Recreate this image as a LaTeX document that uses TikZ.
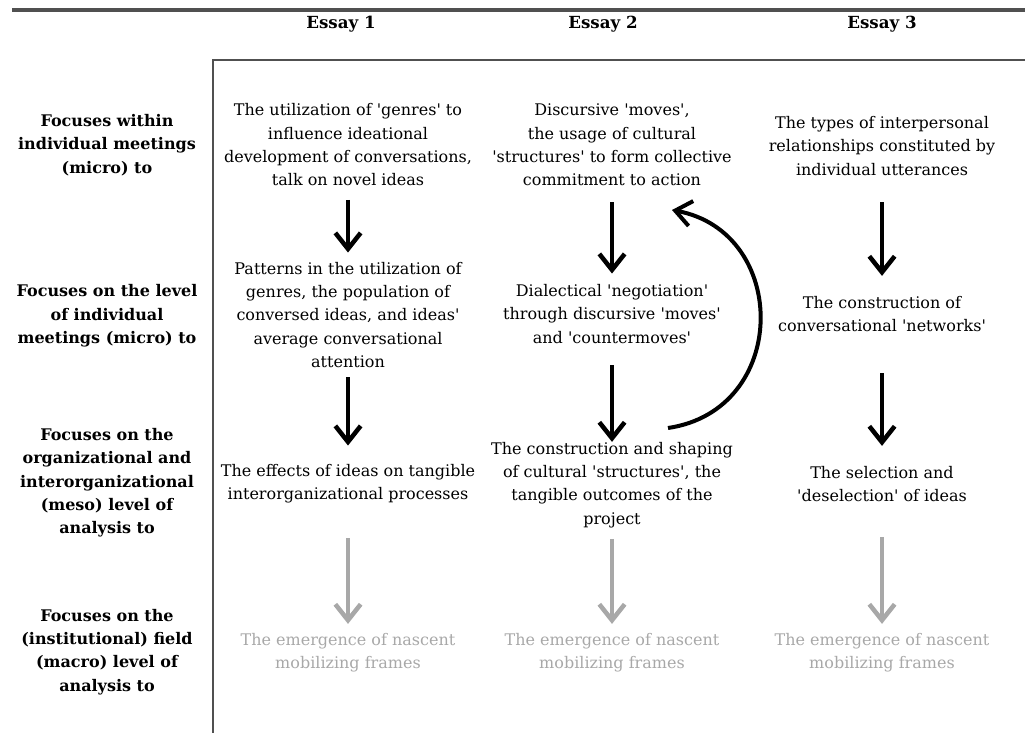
\documentclass[tikz,border=0pt]{standalone}
\usepackage{fontspec}
\setmainfont{DejaVu Serif}[Ligatures=TeXOff]
\usepackage{tikz}
\usetikzlibrary{arrows.meta}
\definecolor{fadegray}{RGB}{168, 168, 168}
\definecolor{rulegray}{RGB}{80, 80, 80}

\begin{document}
\begin{tikzpicture}[
  x=0.75pt, y=-0.75pt,
  lvl/.style={align=center, inner sep=0pt, font=\fontsize{12}{17.5}\selectfont\bfseries},
  txt/.style={align=center, inner sep=0pt, font=\fontsize{12}{17.5}\selectfont},
  fade/.style={txt, text=fadegray},
  head/.style={inner sep=0pt, font=\fontsize{12.5}{14}\selectfont\bfseries},
  flow/.style={-{Straight Barb[length=12pt, width=19pt]}, line width=3.4pt},
  fadeflow/.style={flow, fadegray}
]
  \useasboundingbox (0, 0) rectangle (1025, 733);

  % Frame
  \draw[rulegray, line width=3pt] (12, 10) -- (1025, 10);
  \draw[rulegray, line width=1.1pt] (1025, 60) -- (213, 60) -- (213, 733);

  % Column heads
  \node[head] (ess1) at (341, 24) {Essay 1};
  \node[head] (ess2) at (603, 24) {Essay 2};
  \node[head] (ess3) at (882, 24) {Essay 3};

  % Row labels
  \node[lvl] (foc1) at (107, 145) {Focuses within\\individual meetings\\(micro) to};
  \node[lvl] (foc2) at (107, 316) {Focuses on the level\\of individual\\meetings (micro) to};
  \node[lvl] (foc3) at (107, 483) {Focuses on the\\organizational and\\interorganizational\\(meso) level of\\analysis to};
  \node[lvl] (foc4) at (107, 652) {Focuses on the\\(institutional) field\\(macro) level of\\analysis to};

  % Essay 1
  \node[txt] (a1) at (348, 145) {The utilization of 'genres' to\\influence ideational\\development of conversations,\\talk on novel ideas};
  \node[txt] (a2) at (348, 315) {Patterns in the utilization of\\genres, the population of\\conversed ideas, and ideas'\\average conversational\\attention};
  \node[txt] (a3) at (348, 484) {The effects of ideas on tangible\\interorganizational processes};
  \node[fade] (a4) at (348, 653) {The emergence of nascent\\mobilizing frames};

  % Essay 2
  \node[txt] (b1) at (612, 145) {Discursive 'moves',\\the usage of cultural\\'structures' to form collective\\commitment to action};
  \node[txt] (b2) at (612, 314) {Dialectical 'negotiation'\\through discursive 'moves'\\and 'countermoves'};
  \node[txt] (b3) at (612, 485) {The construction and shaping\\of cultural 'structures', the\\tangible outcomes of the\\project};
  \node[fade] (b4) at (612, 653) {The emergence of nascent\\mobilizing frames};

  % Essay 3
  \node[txt] (c1) at (882, 146) {The types of interpersonal\\relationships constituted by\\individual utterances};
  \node[txt] (c2) at (882, 314) {The construction of\\conversational 'networks'};
  \node[txt] (c3) at (882, 484) {The selection and\\'deselection' of ideas};
  \node[fade] (c4) at (882, 653) {The emergence of nascent\\mobilizing frames};

  % Arrows down the columns
  \draw[flow, shorten <=10pt, shorten >=7pt] (a1.south) -- (a2.north);
  \draw[flow, shorten <=7pt, shorten >=14pt] (a2.south) -- (a3.north);
  \draw[flow, shorten <=12pt, shorten >=8pt] (b1.south) -- (b2.north);
  \draw[flow, shorten <=16pt, shorten >=0pt] (b2.south) -- (b3.north);
  \draw[flow, shorten <=20pt, shorten >=15pt] (c1.south) -- (c2.north);
  \draw[flow, shorten <=31pt, shorten >=15pt] (c2.south) -- (c3.north);

  % Faded arrows to the macro level
  \draw[fadeflow, shorten <=26pt, shorten >=7pt] (a3.south) -- (a4.north);
  \draw[fadeflow, shorten <=8pt, shorten >=7pt] (b3.south) -- (b4.north);
  \draw[fadeflow, shorten <=26pt, shorten >=7pt] (c3.south) -- (c4.north);

  % Feedback loop
  \coordinate (loopS) at (668, 428);
  \coordinate (loopE) at (672, 210);
  \draw[flow, line width=3pt] (loopS) .. controls (790, 410) and (790, 232) .. (loopE);
\end{tikzpicture}
\end{document}
